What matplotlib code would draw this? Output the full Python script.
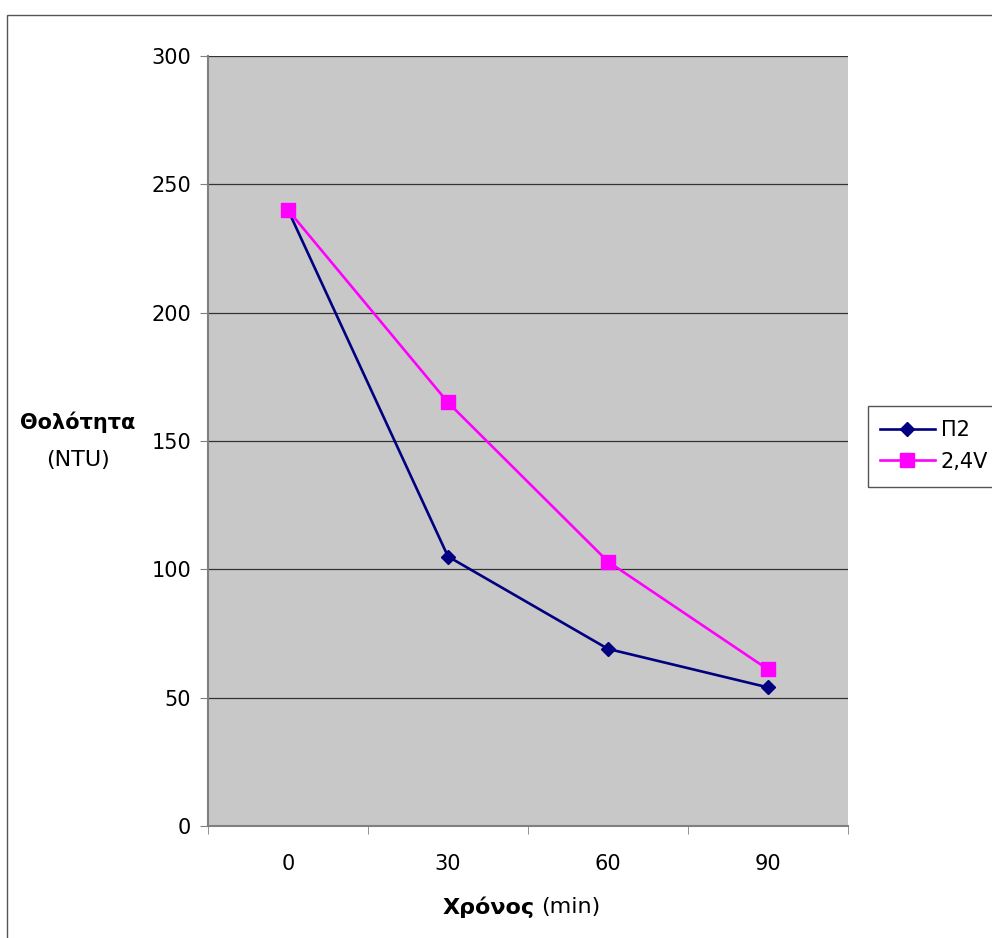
import matplotlib
matplotlib.use("Agg")
import matplotlib.pyplot as plt
from matplotlib.patches import Rectangle

plt.rcParams["font.family"] = ["DejaVu Sans"]

# data
times = ["0", "30", "60", "90"]
p2 = [240, 105, 69, 54]
v24 = [240, 165, 103, 61]
yticks = [0, 50, 100, 150, 200, 250, 300]

W, H = 992, 938
fig = plt.figure(figsize=(W / 100, H / 100), dpi=100)
ax = fig.add_axes([208 / W, (H - 826) / H, 640 / W, 770 / H])

# outer chart border (cut off on right / bottom)
fig.patches.append(Rectangle((7 / W, -0.1), 1.2, (H - 15) / H + 0.1,
                             transform=fig.transFigure, fill=False,
                             ec="#555555", lw=1.0))

ax.set_facecolor("#c8c8c8")
x = list(range(len(times)))
ax.plot(x, p2, color="#000080", lw=1.9, marker="D", ms=7, label="Π2", zorder=3)
ax.plot(x, v24, color="#ff00ff", lw=1.9, marker="s", ms=10, label="2,4V", zorder=3)

ax.set_xlim(-0.5, len(times) - 0.5)
ax.set_ylim(0, 300)
ax.set_yticks(yticks)
ax.set_xticks(x)
ax.set_xticklabels(times)
ax.set_xticks([i - 0.5 for i in range(len(times) + 1)], minor=True)
ax.tick_params(axis="x", which="major", length=0, labelsize=15, pad=20)
ax.tick_params(axis="x", which="minor", length=6, color="#808080", direction="out")
ax.tick_params(axis="y", length=6, color="#808080", labelsize=15, pad=6)
ax.yaxis.grid(True, color="#333333", lw=0.9)
ax.set_axisbelow(True)
for s in ["top", "right"]:
    ax.spines[s].set_visible(False)
for s in ["left", "bottom"]:
    ax.spines[s].set_color("#808080")
    ax.spines[s].set_linewidth(1.5)

# axis titles
fig.text(443 / W, 1 - 907 / H, "Χρόνος", fontsize=16, fontweight="bold",
         ha="left", va="center")
fig.text(541 / W, 1 - 907 / H, "(min)", fontsize=16, ha="left", va="center")
fig.text(78 / W, 1 - 422 / H, "Θολότητα", fontsize=15, fontweight="bold",
         ha="center", va="center")
fig.text(78 / W, 1 - 460 / H, "(NTU)", fontsize=16, ha="center", va="center")

# legend box, cut off on the right
fig.patches.append(Rectangle((868 / W, 1 - 487 / H), 200 / W, 81 / H,
                             transform=fig.transFigure, fill=False,
                             ec="#555555", lw=1.0))
leg = ax.legend(loc="upper left", bbox_to_anchor=(872 / W, 1 - 412 / H),
                bbox_transform=fig.transFigure, frameon=False, fontsize=15,
                handlelength=2.6, labelspacing=0.55, borderaxespad=0,
                handletextpad=0.3)

fig.savefig("out.png", dpi=100)
